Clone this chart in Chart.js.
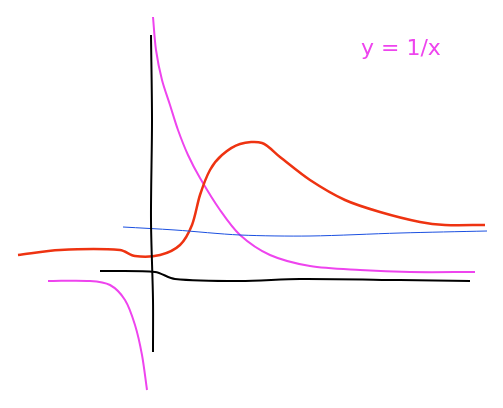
<!DOCTYPE html>
<html>
<head>
<meta charset="utf-8">
<script src="https://cdn.jsdelivr.net/npm/chart.js@4"></script>
<style>
  html, body { margin: 0; padding: 0; background: #fff; }
  #wrap { position: relative; width: 503px; height: 408px; }
</style>
</head>
<body>
<div id="wrap"><canvas id="sketch"></canvas></div>
<script>
// sketch traced in picture coordinates (x right, y down)
const blackVert = [[151, 35], [152, 120], [151, 220], [153, 300], [153, 352]];
const blackHoriz = [[100, 271], [155, 272], [175, 279], [240, 281], [300, 279], [400, 280], [470, 281]];
const blueLine = [[123, 227], [175, 230], [240, 235], [310, 236], [400, 233], [487, 231]];
const redCurve = [[18, 255], [60, 250], [120, 250], [135, 256], [160, 255], [180, 245], [192, 225], [200, 195], [210, 170], [222, 155], [240, 144], [262, 143], [280, 157], [310, 180], [345, 200], [380, 212], [420, 222], [445, 225], [485, 225]];
const pinkUpper = [[153, 17], [156, 50], [162, 80], [170, 105], [178, 130], [188, 155], [200, 178], [220, 210], [240, 235], [270, 255], [310, 266], [360, 270], [410, 272], [475, 272]];
const pinkLower = [[48, 281], [90, 281], [110, 285], [125, 300], [135, 325], [142, 355], [147, 390]];
const titleText = 'y = 1/x';

const pts = arr => arr.map(p => ({ x: p[0], y: p[1] }));
const ds = (arr, color, w) => ({ data: pts(arr), borderColor: color, borderWidth: w, showLine: true, pointRadius: 0, fill: false, tension: 0.3 });

const label = {
  id: 'label',
  afterDraw(chart) {
    const c = chart.ctx;
    c.save();
    c.fillStyle = '#ee44ee';
    c.font = "22px 'DejaVu Sans', sans-serif";
    c.fillText(titleText, 361, 55);
    c.restore();
  }
};

new Chart(document.getElementById('sketch'), {
  type: 'scatter',
  data: { datasets: [
    ds(blackVert, '#000000', 2),
    ds(blackHoriz, '#000000', 2),
    ds(blueLine, '#1a4fe0', 1),
    ds(redCurve, '#ee3311', 2.5),
    ds(pinkUpper, '#ee44ee', 2),
    ds(pinkLower, '#ee44ee', 2)
  ] },
  options: {
    responsive: true, maintainAspectRatio: false, animation: false,
    layout: { padding: 0 },
    plugins: { legend: { display: false }, tooltip: { enabled: false } },
    scales: {
      x: { type: 'linear', min: 0, max: 503, display: false },
      y: { type: 'linear', min: 0, max: 408, reverse: true, display: false }
    }
  },
  plugins: [label]
});
</script>
</body>
</html>
